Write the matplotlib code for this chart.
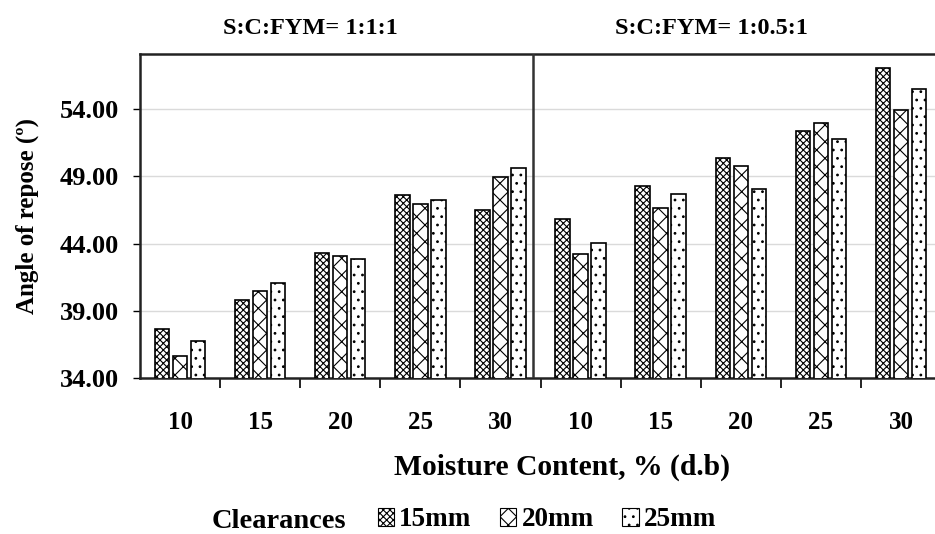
import matplotlib.pyplot as plt
import numpy as np
from matplotlib.patches import Patch

plt.rcParams['font.family'] = ['Liberation Serif', 'DejaVu Serif']
plt.rcParams['font.weight'] = 'bold'
plt.rcParams['hatch.linewidth'] = 0.8

moisture = ['10', '15', '20', '25', '30', '10', '15', '20', '25', '30']
ratios = ['S:C:FYM= 1:1:1', 'S:C:FYM= 1:0.5:1']
clearances = ['15mm', '20mm', '25mm']

# angle of repose (deg): first five = 1:1:1, last five = 1:0.5:1
c15 = [37.64, 39.77, 43.28, 47.59, 46.50, 45.83, 48.28, 50.36, 52.39, 57.04]
c20 = [35.60, 40.49, 43.11, 46.92, 48.93, 43.26, 46.62, 49.74, 52.99, 53.95]
c25 = [36.77, 41.05, 42.86, 47.22, 49.59, 44.05, 47.69, 48.03, 51.75, 55.46]

yticks = [34, 39, 44, 49, 54]
hatches = ['xxxxx', 'xx', '..']

W, H = 935, 534
fig = plt.figure(figsize=(W / 100, H / 100), dpi=100)
ax = fig.add_axes([140 / W, 1 - 378 / H, 801 / W, 324 / H])

x = np.arange(len(moisture))
width = 0.18
for i, (vals, h) in enumerate(zip([c15, c20, c25], hatches)):
    ax.bar(x + (i - 1) * 0.225, vals, width, color='white', edgecolor='black',
           hatch=h, linewidth=1.2, zorder=3, label=clearances[i])

ax.set_ylim(34, 58.1)
ax.set_xlim(-0.5, 9.5)
ax.set_yticks(yticks)
ax.set_yticklabels([f'{v:.2f}' for v in yticks], fontsize=19)
for v in yticks[1:]:
    ax.axhline(v, color='#dadada', lw=1.0, zorder=1)

# group boundaries as ticks, labels in the middle
ax.set_xticks(np.arange(0.5, 9.5, 1.0))
ax.set_xticklabels([])
ax.set_xticks(x, minor=True)
ax.set_xticklabels(moisture, minor=True, fontsize=18)
ax.tick_params(axis='x', which='major', length=7, width=1.2, direction='out')
ax.tick_params(axis='x', which='minor', length=0, pad=24)
ax.tick_params(axis='y', length=5, width=1.0, pad=10)

for s in ['left', 'top', 'bottom', 'right']:
    ax.spines[s].set_linewidth(1.8)
    ax.spines[s].set_color('#222222')

# panel divider
ax.axvline(4.41, color='#333333', lw=1.8, zorder=4)

fig.text(310 / W, 1 - 28 / H, ratios[0], ha='center', va='center', fontsize=17.5)
fig.text(711 / W, 1 - 28 / H, ratios[1], ha='center', va='center', fontsize=17.5)

fig.text(27 / W, 1 - 216 / H, 'Angle of repose (\u00ba)', rotation=90,
         ha='center', va='center', fontsize=18)
fig.text(562 / W, 1 - 467 / H, 'Moisture Content, % (d.b)', ha='center',
         va='center', fontsize=21.3)

fig.text(279 / W, 1 - 521 / H, 'Clearances', ha='center', va='center', fontsize=20.5)
handles = [Patch(facecolor='white', edgecolor='black', hatch=h, linewidth=0.8)
           for h in hatches]
leg = fig.legend(handles, clearances, loc='center', bbox_to_anchor=(547 / W, 1 - 520 / H),
                 ncol=3, frameon=False, fontsize=19.5, handlelength=0.6,
                 handleheight=0.6, handletextpad=0.2, columnspacing=1.05,
                 borderpad=0.1)

fig.savefig('out.png', dpi=100)
